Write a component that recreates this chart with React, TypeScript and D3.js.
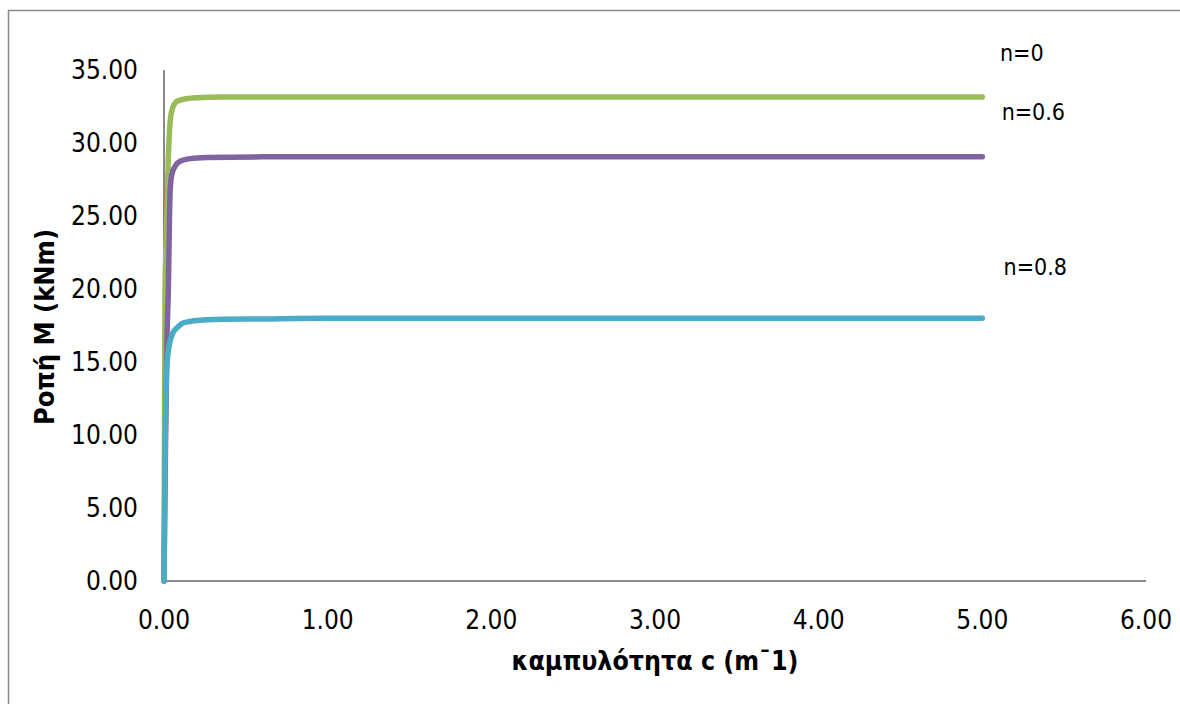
import React, { useEffect, useRef } from 'react';
import * as d3 from 'd3';

// curvature c (1/m) and moment M (kNm) per series
const curvN0 = [0, 0.003, 0.005, 0.007, 0.026, 0.037, 0.05, 0.078, 0.16, 0.3, 0.6, 1, 2, 3, 4, 5];
const momN0 = [0, 10, 20, 26, 28.8, 31.4, 32.3, 32.85, 33.1, 33.15, 33.15, 33.15, 33.15, 33.15, 33.15, 33.15];

const curvA = [0, 0.003, 0.006, 0.016, 0.026, 0.037, 0.05, 0.078, 0.12, 0.2, 0.35, 0.6, 1, 2, 3, 4, 5];
const momA = [0, 10, 19.7, 24.2, 28.8, 31.4, 32.3, 32.85, 33.0, 33.1, 33.15, 33.15, 33.15, 33.15, 33.15, 33.15, 33.15];

const curvB = [0, 0.008, 0.018, 0.026, 0.037, 0.047, 0.065, 0.098, 0.16, 0.26, 0.6, 1, 2, 3, 4, 5];
const momB = [0, 8, 16.5, 19.7, 26.6, 27.8, 28.35, 28.75, 28.93, 29.0, 29.05, 29.05, 29.05, 29.05, 29.05, 29.05];

const curvC = [0, 0.004, 0.008, 0.0165, 0.03, 0.055, 0.085, 0.116, 0.18, 0.263, 0.6, 1, 2, 3, 4, 5];
const momC = [0, 5.5, 10, 14.45, 16, 17.0, 17.4, 17.67, 17.82, 17.9, 17.95, 18.0, 18.0, 18.0, 18.0, 18.0];

const seriesColors = ['#C0504D', '#9BBB59', '#8064A2', '#4BACC6'];

const xTicks = [0, 1, 2, 3, 4, 5, 6];
const yTicks = [0, 5, 10, 15, 20, 25, 30, 35];

const notes = ['n=0', 'n=0.6', 'n=0.8'];
const noteAt = [[5.108, 35.6], [5.118, 31.6], [5.13, 20.95]];

const App = () => {
  const ref = useRef<SVGSVGElement>(null);

  useEffect(() => {
    const width = 1180;
    const height = 704;
    const font = "'DejaVu Sans Condensed', 'DejaVu Sans', sans-serif";

    const svg = d3.select(ref.current);
    svg.selectAll('*').remove();

    // chart frame
    svg.append('rect')
      .attr('x', 8.5).attr('y', 10.5)
      .attr('width', 1300).attr('height', 800)
      .attr('fill', 'white')
      .attr('stroke', '#8a8a8a')
      .attr('stroke-width', 1.5);

    const x = d3.scaleLinear().domain([0, 6]).range([164, 1146]);
    const y = d3.scaleLinear().domain([0, 35]).range([581, 70]);

    // axes
    svg.append('line')
      .attr('x1', x(0)).attr('x2', x(6))
      .attr('y1', y(0)).attr('y2', y(0))
      .attr('stroke', '#8a8a8a').attr('stroke-width', 2);
    svg.append('line')
      .attr('x1', x(0)).attr('x2', x(0))
      .attr('y1', y(0)).attr('y2', y(35))
      .attr('stroke', '#8a8a8a').attr('stroke-width', 2);

    svg.append('g').selectAll('text')
      .data(yTicks).enter().append('text')
      .attr('x', 138)
      .attr('y', d => y(d))
      .attr('dy', '0.36em')
      .attr('text-anchor', 'end')
      .attr('font-family', font)
      .attr('font-size', 26)
      .text(d => d.toFixed(2));

    svg.append('g').selectAll('text')
      .data(xTicks).enter().append('text')
      .attr('x', d => x(d))
      .attr('y', 629)
      .attr('text-anchor', 'middle')
      .attr('font-family', font)
      .attr('font-size', 26)
      .text(d => d.toFixed(2));

    // axis titles
    svg.append('text')
      .attr('transform', `translate(54, ${327}) rotate(-90)`)
      .attr('text-anchor', 'middle')
      .attr('font-family', font)
      .attr('font-weight', 'bold')
      .attr('font-size', 27)
      .text('Ροπή Μ (kNm)');

    svg.append('text')
      .attr('x', 655).attr('y', 670)
      .attr('text-anchor', 'middle')
      .attr('font-family', font)
      .attr('font-weight', 'bold')
      .attr('font-size', 26.5)
      .text('καμπυλότητα c (m¯1)');

    const all = [
      [curvN0, momN0],
      [curvA, momA],
      [curvB, momB],
      [curvC, momC],
    ];

    const line = d3.line<[number, number]>()
      .x(d => x(d[0]))
      .y(d => y(d[1]))
      .curve(d3.curveMonotoneX);

    all.forEach(([cs, ms], i) => {
      const pts = cs.map((c, j) => [c, ms[j]] as [number, number]);
      svg.append('path')
        .attr('d', line(pts))
        .attr('fill', 'none')
        .attr('stroke', seriesColors[i])
        .attr('stroke-width', i === 0 ? 3 : 5.5)
        .attr('stroke-linecap', 'round')
        .attr('stroke-linejoin', 'round');
    });

    svg.append('g').selectAll('text')
      .data(notes).enter().append('text')
      .attr('x', (d, i) => x(noteAt[i][0]))
      .attr('y', (d, i) => y(noteAt[i][1]))
      .attr('font-family', font)
      .attr('font-size', 23)
      .text(d => d);

    svg.attr('width', width).attr('height', height);
  }, []);

  return (
    <svg ref={ref} width={1180} height={704}
      style={{ position: 'absolute', left: 0, top: 0, background: 'white' }} />
  );
};

export default App;
